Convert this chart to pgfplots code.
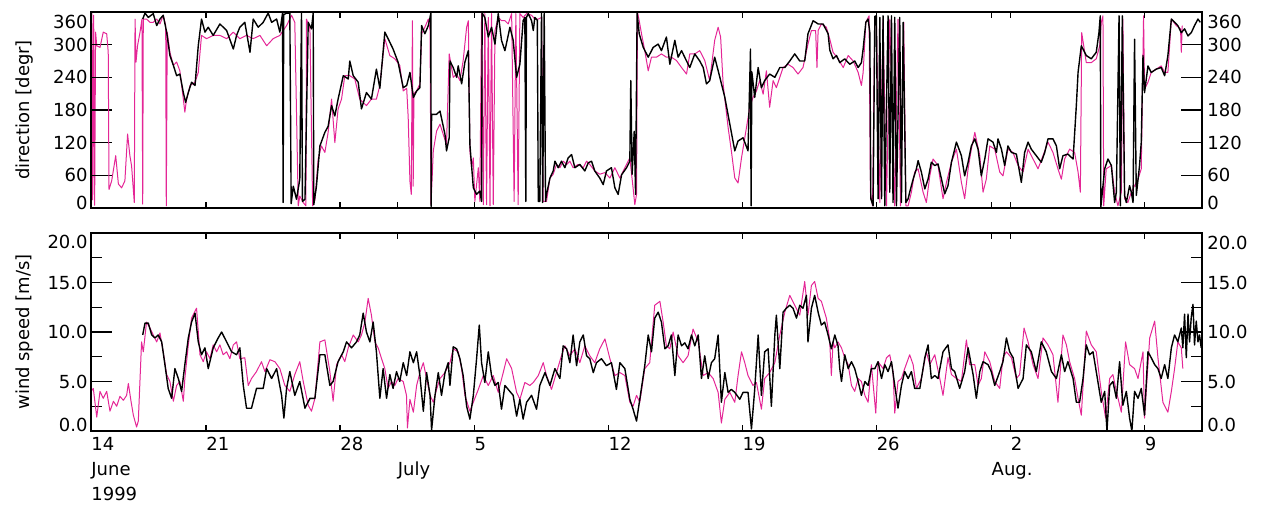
\documentclass[border=0pt]{standalone}
\usepackage{pgfplots}
\pgfplotsset{compat=1.18}
\usepackage{pgfplotstable}
\usepackage{fontspec}
\setmainfont{DejaVu Sans}
\definecolor{mag}{RGB}{228,38,150}

% ---------------- top panel: wind direction ----------------
\pgfplotstableread[row sep=\\]{x y\\
17.70 347\\17.82 358\\17.99 350\\18.25 357\\18.43 335\\18.60 347\\18.77 354\\18.95 323\\19.12 280\\19.30 262\\19.47 243\\19.64 246\\19.82 212\\19.94 194\\20.08 212\\20.25 231\\20.43 225\\20.60 298\\20.77 347\\20.95 323\\21.12 332\\21.38 317\\21.73 338\\22.08 326\\22.43 292\\22.60 317\\22.77 332\\23.03 341\\23.30 286\\23.47 347\\23.73 332\\23.99 341\\24.25 358\\24.43 341\\24.69 347\\24.86 323\\25.00 358\\25.03 10\\25.06 355\\25.21 358\\25.38 358\\25.45 8\\25.56 40\\25.73 16\\25.90 53\\25.99 358\\26.04 12\\26.17 16\\26.34 341\\26.51 329\\26.60 358\\26.63 6\\26.77 40\\26.95 114\\27.21 139\\27.38 150\\27.56 188\\27.73 169\\27.90 200\\28.17 243\\28.43 237\\28.51 270\\28.69 243\\28.95 231\\29.12 182\\29.38 212\\29.64 200\\29.90 255\\30.08 220\\30.34 323\\30.51 311\\30.77 292\\31.03 268\\31.30 221\\31.48 225\\31.65 249\\31.83 203\\32.00 215\\32.17 221\\32.26 335\\32.43 320\\32.61 335\\32.70 350\\32.74 358\\32.76 3\\32.78 172\\33.04 172\\33.22 178\\33.48 135\\33.56 105\\33.70 129\\33.74 270\\33.91 258\\34.09 240\\34.17 261\\34.35 228\\34.52 268\\34.70 289\\34.78 117\\34.96 37\\35.13 25\\35.30 31\\35.39 12\\35.42 358\\35.56 350\\35.74 314\\35.91 332\\36.09 301\\36.26 357\\36.43 308\\36.61 289\\36.87 332\\37.04 308\\37.22 240\\37.39 264\\37.56 344\\37.65 350\\37.70 12\\37.73 350\\37.83 357\\38.00 344\\38.09 326\\38.17 350\\38.30 345\\38.35 12\\38.43 12\\38.52 358\\38.58 10\\38.66 358\\38.73 12\\38.78 25\\38.96 55\\39.13 68\\39.22 86\\39.39 74\\39.56 86\\39.74 74\\39.91 92\\40.09 98\\40.26 74\\40.52 80\\40.78 68\\40.96 83\\41.13 86\\41.30 68\\41.56 55\\41.74 43\\41.91 68\\42.17 74\\42.35 37\\42.52 25\\42.70 61\\42.96 74\\43.13 86\\43.18 234\\43.25 62\\43.36 141\\43.43 25\\43.51 358\\43.62 320\\43.83 295\\44.09 277\\44.35 295\\44.61 301\\44.78 289\\45.04 314\\45.22 264\\45.48 308\\45.65 277\\45.83 289\\46.09 270\\46.26 258\\46.52 283\\46.78 270\\46.96 258\\47.13 228\\47.30 234\\47.56 277\\47.83 240\\48.09 203\\48.35 154\\48.61 105\\48.78 123\\49.04 129\\49.30 105\\49.43 292\\49.46 4\\49.50 250\\49.65 203\\49.83 258\\50.00 221\\50.17 234\\50.43 246\\50.70 240\\50.96 258\\51.22 258\\51.48 270\\51.74 283\\52.00 270\\52.26 270\\52.43 320\\52.70 344\\52.96 338\\53.22 338\\53.48 320\\53.57 290\\53.74 274\\53.92 280\\54.09 267\\54.35 274\\54.61 264\\54.87 270\\55.05 258\\55.22 267\\55.31 292\\55.45 341\\55.57 347\\55.66 322\\55.71 17\\55.83 4\\55.92 352\\56.00 353\\56.09 17\\56.18 350\\56.27 17\\56.35 353\\56.44 4\\56.61 353\\56.70 29\\56.79 353\\56.87 10\\56.96 350\\57.05 4\\57.22 350\\57.31 10\\57.40 341\\57.54 10\\57.66 17\\57.74 29\\57.92 53\\58.09 72\\58.18 87\\58.35 66\\58.53 35\\58.70 53\\58.87 84\\59.05 78\\59.22 81\\59.40 53\\59.57 26\\59.74 41\\59.92 84\\60.18 121\\60.44 96\\60.61 59\\60.79 84\\60.96 114\\61.14 127\\61.31 108\\61.48 59\\61.66 90\\61.83 127\\62.09 121\\62.27 102\\62.35 127\\62.53 108\\62.70 78\\62.87 114\\63.05 102\\63.31 99\\63.57 47\\63.74 102\\63.92 121\\64.09 108\\64.35 96\\64.61 84\\64.79 102\\64.96 127\\65.22 127\\65.40 114\\65.57 72\\65.74 96\\66.00 99\\66.27 90\\66.44 188\\66.53 249\\66.70 298\\66.96 280\\67.22 274\\67.48 286\\67.62 322\\67.69 353\\67.72 2\\67.92 72\\68.09 90\\68.27 78\\68.44 10\\68.53 29\\68.67 353\\68.74 4\\68.84 353\\68.96 23\\69.05 10\\69.22 41\\69.31 29\\69.40 10\\69.48 310\\69.57 23\\69.74 78\\69.83 121\\69.92 280\\70.00 212\\70.18 261\\70.35 249\\70.61 255\\70.87 258\\71.05 243\\71.22 280\\71.40 347\\71.57 341\\71.74 335\\71.92 322\\72.09 329\\72.27 316\\72.44 322\\72.61 335\\72.79 347\\72.91 341\\
}\topblack

\pgfplotstableread[row sep=\\]{x y\\
15.00 4\\15.05 358\\15.09 15\\15.14 354\\15.19 5\\15.24 323\\15.30 298\\15.47 295\\15.64 323\\15.82 320\\15.90 286\\15.94 34\\16.08 50\\16.29 96\\16.43 44\\16.60 37\\16.77 50\\16.91 136\\17.03 96\\17.12 77\\17.26 10\\17.30 347\\17.35 268\\17.43 298\\17.56 323\\17.66 347\\17.70 7\\17.73 347\\17.90 347\\18.08 341\\18.25 341\\18.43 347\\18.60 338\\18.77 354\\18.90 335\\18.93 4\\18.98 323\\19.12 286\\19.30 262\\19.47 268\\19.64 252\\19.82 200\\19.90 176\\19.99 200\\20.17 225\\20.43 231\\20.60 249\\20.77 317\\21.03 311\\21.38 317\\21.73 317\\22.08 311\\22.43 323\\22.77 311\\23.12 317\\23.47 311\\23.82 317\\24.17 298\\24.51 311\\24.86 317\\25.21 335\\25.47 354\\25.64 341\\25.82 4\\25.90 22\\26.08 10\\26.22 4\\26.25 347\\26.43 329\\26.57 4\\26.69 15\\26.86 90\\27.03 114\\27.21 102\\27.38 139\\27.56 200\\27.73 120\\27.90 182\\28.08 200\\28.25 243\\28.51 243\\28.77 237\\29.03 200\\29.38 188\\29.64 200\\29.90 200\\30.08 225\\30.34 311\\30.60 280\\30.86 274\\31.12 262\\31.30 215\\31.48 220\\31.56 166\\31.65 49\\31.72 25\\31.78 344\\31.82 40\\31.86 210\\32.00 215\\32.17 228\\32.26 320\\32.43 332\\32.61 347\\32.70 326\\32.75 6\\32.87 105\\33.04 141\\33.22 154\\33.39 135\\33.56 117\\33.70 283\\33.91 240\\34.09 246\\34.26 234\\34.43 271\\34.61 332\\34.70 344\\34.78 105\\34.87 74\\34.96 92\\35.04 12\\35.22 74\\35.30 12\\35.39 357\\35.48 6\\35.56 357\\35.65 6\\35.74 350\\35.83 4\\35.91 357\\36.00 6\\36.09 326\\36.26 350\\36.43 344\\36.61 344\\36.78 338\\36.96 357\\37.09 12\\37.18 357\\37.30 6\\37.39 357\\37.56 350\\37.74 357\\38.00 354\\38.17 347\\38.35 347\\38.52 350\\38.61 12\\38.78 12\\38.96 55\\39.13 62\\39.30 80\\39.48 74\\39.65 86\\39.83 80\\40.00 86\\40.17 74\\40.43 80\\40.70 74\\40.87 86\\41.04 80\\41.30 68\\41.56 62\\41.83 65\\42.09 55\\42.35 74\\42.61 55\\42.87 74\\43.13 92\\43.30 37\\43.39 6\\43.48 25\\43.53 360\\43.62 344\\43.74 320\\43.91 289\\44.09 252\\44.26 277\\44.52 277\\44.78 283\\45.04 277\\45.30 277\\45.56 271\\45.83 258\\46.09 246\\46.26 283\\46.52 283\\46.78 289\\47.04 271\\47.30 234\\47.56 308\\47.74 332\\47.87 314\\48.00 228\\48.26 148\\48.43 105\\48.61 55\\48.78 46\\48.96 92\\49.22 148\\49.39 185\\49.56 203\\49.74 215\\49.91 234\\50.09 209\\50.26 252\\50.43 185\\50.61 234\\50.78 221\\50.96 240\\51.13 258\\51.39 264\\51.65 258\\51.91 246\\52.17 258\\52.43 301\\52.61 326\\52.83 326\\52.90 258\\52.96 326\\53.13 338\\53.39 332\\53.57 310\\53.74 286\\54.00 274\\54.27 258\\54.53 280\\54.79 270\\55.05 249\\55.22 225\\55.31 249\\55.45 341\\55.62 353\\55.69 29\\55.80 4\\55.92 347\\56.00 347\\56.18 10\\56.35 347\\56.53 4\\56.70 347\\56.96 4\\57.13 347\\57.26 4\\57.43 341\\57.54 4\\57.66 4\\57.83 29\\58.00 66\\58.18 72\\58.44 29\\58.61 10\\58.79 59\\58.96 90\\59.22 78\\59.48 17\\59.66 47\\59.92 84\\60.18 108\\60.44 47\\60.61 17\\60.79 72\\60.96 108\\61.14 139\\61.40 96\\61.57 29\\61.74 53\\61.92 114\\62.18 108\\62.44 66\\62.61 59\\62.87 108\\63.13 102\\63.40 78\\63.66 66\\63.92 108\\64.18 90\\64.44 72\\64.70 96\\64.96 121\\65.22 102\\65.48 72\\65.66 53\\65.83 90\\66.09 108\\66.35 102\\66.53 66\\66.65 29\\66.72 322\\66.96 267\\67.22 267\\67.48 274\\67.66 298\\67.74 341\\67.83 353\\67.87 4\\68.00 72\\68.27 78\\68.44 29\\68.61 4\\68.79 29\\68.87 347\\68.96 17\\69.13 10\\69.31 29\\69.48 41\\69.66 53\\69.83 72\\69.95 353\\70.00 218\\70.18 231\\70.35 249\\70.61 255\\70.87 261\\71.05 249\\71.22 249\\71.40 347\\71.66 335\\71.88 329\\71.92 286\\71.97 335\\
}\topmag

% ---------------- bottom panel: wind speed ----------------
\pgfplotstableread[row sep=\\]{x y\\
17.70 9.7\\17.82 10.9\\17.99 10.9\\18.17 9.7\\18.34 9.4\\18.51 9.7\\18.69 9.0\\18.86 6.7\\19.03 4.3\\19.21 3.3\\19.38 6.3\\19.56 5.3\\19.73 4.0\\19.90 6.7\\20.08 9.4\\20.25 11.0\\20.43 11.9\\20.60 9.0\\20.77 7.7\\20.95 8.4\\21.12 6.3\\21.38 8.4\\21.64 9.4\\21.82 10.0\\22.08 9.0\\22.34 8.0\\22.60 7.7\\22.77 8.4\\22.95 4.6\\23.12 2.3\\23.38 2.3\\23.64 4.3\\23.99 4.3\\24.17 6.3\\24.43 5.3\\24.69 6.3\\24.95 3.6\\25.07 1.3\\25.21 4.3\\25.38 6.0\\25.64 3.6\\25.90 5.0\\26.17 2.3\\26.43 3.3\\26.69 3.3\\26.95 7.7\\27.21 7.7\\27.47 4.6\\27.64 5.0\\27.90 7.0\\28.17 8.0\\28.34 9.0\\28.60 8.4\\28.86 9.0\\29.03 9.7\\29.21 11.9\\29.38 10.0\\29.56 9.0\\29.73 11.0\\29.90 8.0\\30.08 3.3\\30.25 6.3\\30.43 3.3\\30.60 5.7\\30.77 4.3\\30.95 6.0\\31.12 5.0\\31.30 6.9\\31.48 5.6\\31.65 8.0\\31.83 6.9\\32.00 8.0\\32.17 5.6\\32.35 2.0\\32.52 5.9\\32.70 3.6\\32.78 0.1\\32.96 3.6\\33.13 5.9\\33.30 3.6\\33.48 5.9\\33.65 6.9\\33.74 4.6\\33.91 8.5\\34.09 8.3\\34.26 7.3\\34.43 5.6\\34.61 2.5\\34.78 1.2\\34.96 3.6\\35.13 7.3\\35.27 10.7\\35.39 6.9\\35.56 4.9\\35.74 8.0\\35.91 5.6\\36.09 4.6\\36.26 4.9\\36.43 2.2\\36.61 4.6\\36.78 4.2\\37.04 3.6\\37.22 1.5\\37.39 3.2\\37.56 1.2\\37.74 2.9\\38.00 3.6\\38.26 2.2\\38.43 4.6\\38.70 5.9\\38.96 4.6\\39.22 6.3\\39.48 5.3\\39.65 8.6\\39.83 8.3\\40.00 6.9\\40.17 9.7\\40.35 6.6\\40.52 9.0\\40.70 9.7\\40.87 7.6\\41.04 7.3\\41.22 5.9\\41.39 6.9\\41.65 7.3\\41.91 6.6\\42.17 6.9\\42.43 4.2\\42.61 6.9\\42.87 6.3\\43.13 3.2\\43.30 2.2\\43.48 1.0\\43.65 3.2\\43.91 6.6\\44.09 9.7\\44.26 8.0\\44.43 11.4\\44.61 12.0\\44.78 11.0\\44.96 8.3\\45.13 8.6\\45.30 9.7\\45.48 5.6\\45.65 9.7\\45.83 8.6\\46.00 8.9\\46.17 8.3\\46.35 9.7\\46.52 8.6\\46.70 9.7\\46.87 5.3\\47.04 7.6\\47.22 5.3\\47.39 6.9\\47.56 7.3\\47.74 9.7\\47.91 2.9\\48.09 5.9\\48.26 3.9\\48.43 4.2\\48.61 3.9\\48.87 3.2\\49.04 3.9\\49.30 3.9\\49.48 0.2\\49.65 4.2\\49.83 9.7\\50.00 3.6\\50.17 8.0\\50.35 8.3\\50.52 2.5\\50.70 9.7\\50.78 11.7\\50.96 6.3\\51.13 12.0\\51.30 12.4\\51.48 12.7\\51.65 12.4\\51.83 11.4\\52.00 12.7\\52.17 12.4\\52.35 13.7\\52.43 9.0\\52.61 12.4\\52.78 13.7\\52.96 12.0\\53.13 10.7\\53.30 11.0\\53.48 9.7\\53.65 8.3\\53.83 9.7\\54.00 8.6\\54.09 6.3\\54.18 5.0\\54.35 7.7\\54.53 6.3\\54.70 7.0\\54.87 6.3\\55.05 5.0\\55.22 3.6\\55.40 5.0\\55.57 4.6\\55.74 6.3\\55.92 6.3\\56.09 7.0\\56.27 5.3\\56.44 6.7\\56.61 6.0\\56.79 7.0\\56.96 4.6\\57.13 2.3\\57.31 4.6\\57.48 6.0\\57.66 5.3\\57.83 6.0\\58.00 4.3\\58.27 4.3\\58.53 7.4\\58.70 8.7\\58.87 5.3\\59.05 5.6\\59.22 5.3\\59.48 8.0\\59.74 8.7\\59.92 6.3\\60.09 6.0\\60.35 4.3\\60.61 6.0\\60.79 8.4\\61.05 5.7\\61.22 3.3\\61.40 6.0\\61.57 7.0\\61.83 6.7\\62.00 6.0\\62.18 4.6\\62.44 6.0\\62.61 7.0\\62.79 9.4\\62.96 8.0\\63.14 7.4\\63.40 4.3\\63.66 5.3\\63.83 8.7\\64.09 8.0\\64.35 6.0\\64.61 9.0\\64.87 8.0\\65.14 6.0\\65.40 5.3\\65.66 7.7\\65.83 6.0\\66.00 7.0\\66.27 5.3\\66.44 2.9\\66.61 2.9\\66.79 5.3\\66.96 8.7\\67.13 7.7\\67.31 8.0\\67.48 6.0\\67.74 2.9\\67.92 4.0\\68.04 0.0\\68.18 4.6\\68.35 5.0\\68.53 3.3\\68.70 7.0\\68.87 2.6\\69.05 4.0\\69.22 1.3\\69.34 0.0\\69.48 4.0\\69.66 3.3\\69.83 4.3\\70.00 1.6\\70.18 8.0\\70.35 7.4\\70.53 6.7\\70.70 6.3\\70.87 5.3\\71.05 6.7\\71.22 5.3\\71.40 8.4\\71.57 9.7\\71.74 9.0\\71.92 10.4\\72.00 8.4\\72.09 11.8\\72.18 7.4\\72.27 11.8\\72.35 9.0\\72.44 11.5\\72.53 12.8\\72.61 8.7\\72.70 11.1\\72.79 9.0\\72.87 9.7\\72.96 8.4\\
}\botblack

\pgfplotstableread[row sep=\\]{x y\\
15.00 4.0\\15.12 4.3\\15.30 1.4\\15.47 4.0\\15.64 3.3\\15.82 4.0\\15.99 2.0\\16.17 3.0\\16.34 2.5\\16.51 3.5\\16.69 3.1\\16.86 3.6\\16.95 4.8\\17.09 3.0\\17.21 1.6\\17.38 0.4\\17.47 1.0\\17.64 9.0\\17.73 8.0\\17.90 11.0\\18.08 10.4\\18.25 9.7\\18.43 9.0\\18.60 9.9\\18.77 8.0\\18.95 5.7\\19.12 5.0\\19.30 3.0\\19.47 4.6\\19.64 5.0\\19.82 3.0\\19.90 5.3\\20.08 8.7\\20.25 11.4\\20.51 12.4\\20.69 7.7\\20.86 7.0\\21.03 8.0\\21.21 7.3\\21.38 8.7\\21.56 8.0\\21.73 8.7\\21.90 7.7\\22.08 8.0\\22.25 7.3\\22.43 8.7\\22.60 9.0\\22.77 7.3\\23.03 7.4\\23.21 4.6\\23.38 5.3\\23.64 6.0\\23.90 7.0\\24.08 6.0\\24.34 7.2\\24.60 7.0\\24.86 6.3\\25.12 4.6\\25.38 4.0\\25.64 5.7\\25.90 7.0\\26.08 5.0\\26.34 2.6\\26.51 2.0\\26.69 3.3\\26.95 9.0\\27.21 9.2\\27.47 6.0\\27.64 3.0\\27.82 6.7\\28.08 7.7\\28.25 7.0\\28.43 8.4\\28.69 9.7\\28.95 9.0\\29.12 9.7\\29.30 11.0\\29.47 13.4\\29.64 11.7\\29.82 9.0\\29.99 8.4\\30.17 7.3\\30.34 6.3\\30.51 4.3\\30.69 5.0\\30.86 4.6\\31.03 5.3\\31.30 5.0\\31.47 3.6\\31.52 0.3\\31.65 3.2\\31.83 1.9\\32.00 4.6\\32.17 5.9\\32.35 6.9\\32.52 5.3\\32.70 3.6\\32.87 2.9\\33.04 4.2\\33.22 5.3\\33.48 5.9\\33.74 6.9\\33.91 8.3\\34.17 8.0\\34.35 6.3\\34.52 3.6\\34.78 2.0\\34.96 2.9\\35.22 4.2\\35.48 5.6\\35.74 4.6\\36.00 5.6\\36.26 3.9\\36.52 5.9\\36.70 7.3\\36.96 6.3\\37.22 3.9\\37.39 3.2\\37.65 4.9\\37.91 4.6\\38.09 4.9\\38.35 5.6\\38.61 6.9\\38.78 5.6\\39.04 4.2\\39.30 5.9\\39.56 7.6\\39.74 8.6\\40.00 7.6\\40.26 8.3\\40.52 6.9\\40.78 8.6\\41.04 7.6\\41.30 6.9\\41.56 8.3\\41.83 9.3\\42.09 7.3\\42.35 5.6\\42.61 5.9\\42.87 5.6\\43.13 2.9\\43.30 2.5\\43.48 3.6\\43.65 2.9\\43.91 6.3\\44.17 6.9\\44.43 12.7\\44.70 13.1\\44.87 11.0\\45.04 8.6\\45.22 8.3\\45.39 10.0\\45.65 7.6\\45.91 6.9\\46.17 7.6\\46.43 10.3\\46.70 9.0\\46.96 5.6\\47.22 5.9\\47.48 5.3\\47.74 3.9\\47.91 0.8\\48.09 3.2\\48.35 3.9\\48.61 2.9\\48.78 5.6\\48.96 8.0\\49.13 6.9\\49.30 5.6\\49.56 4.6\\49.74 4.9\\50.00 2.2\\50.17 5.3\\50.43 5.9\\50.70 6.9\\50.96 9.7\\51.22 12.0\\51.48 13.7\\51.74 12.7\\52.00 11.7\\52.26 15.1\\52.43 11.7\\52.61 14.7\\52.78 15.1\\52.96 13.4\\53.13 13.1\\53.39 11.4\\53.56 9.3\\53.65 5.6\\53.74 9.0\\53.83 8.4\\54.00 9.0\\54.18 8.4\\54.35 7.4\\54.53 6.7\\54.70 4.6\\54.87 4.0\\55.05 5.3\\55.22 5.0\\55.40 3.6\\55.57 2.9\\55.74 6.7\\55.97 1.8\\56.09 7.0\\56.35 6.3\\56.53 7.4\\56.70 7.7\\56.87 6.0\\56.96 1.8\\57.13 5.0\\57.31 5.3\\57.48 6.3\\57.74 7.7\\57.92 6.7\\58.09 4.3\\58.35 5.3\\58.61 8.0\\58.79 6.7\\59.05 7.7\\59.31 5.3\\59.48 3.6\\59.74 7.4\\59.92 5.7\\60.18 5.3\\60.44 5.0\\60.70 9.2\\60.87 6.7\\61.14 6.7\\61.31 4.6\\61.48 5.3\\61.66 8.0\\61.92 7.0\\62.18 5.0\\62.44 4.3\\62.61 7.4\\62.79 8.0\\63.05 7.4\\63.31 5.3\\63.48 5.7\\63.71 10.4\\63.92 9.0\\64.18 6.7\\64.44 5.3\\64.70 9.4\\64.96 8.7\\65.22 7.7\\65.48 2.9\\65.74 9.7\\65.92 8.7\\66.09 7.0\\66.35 5.3\\66.53 3.3\\66.70 1.6\\66.96 10.1\\67.22 8.7\\67.48 8.0\\67.74 4.0\\67.97 1.3\\68.18 5.3\\68.35 5.7\\68.53 4.0\\68.79 1.9\\69.01 9.0\\69.22 6.7\\69.48 6.3\\69.66 5.3\\69.92 8.0\\70.00 1.3\\70.27 9.4\\70.53 11.1\\70.70 7.4\\70.96 2.9\\71.22 1.9\\71.40 4.0\\71.57 6.3\\71.74 9.0\\71.92 8.4\\72.00 6.3\\
}\botmag

\pgfplotsset{
  panel/.style={
    scale only axis, width=555.5pt, xmin=15, xmax=73,
    axis line style={line width=0.7pt},
    every tick/.style={black, line width=0.6pt},
    font=\fontsize{9}{12.5}\selectfont,
    tick label style={font=\fontsize{9}{12.5}\selectfont},
  },
}

\begin{document}
\begin{tikzpicture}
\useasboundingbox (-45.5pt,6pt) rectangle (587pt,-247.5pt);

% ===== top panel, data + long y ticks =====
\begin{axis}[panel, at={(0pt,0pt)}, anchor=north west, height=98pt,
  ymin=0, ymax=360, ytick={0,60,120,180,240,300,360},
  yticklabels={\raisebox{2.5pt}[\height][\depth]{0},60,120,180,240,300,\raisebox{-5pt}[\height][\depth]{360}},
  ytick pos=both, yticklabel pos=left, major tick length=10.5pt,
  yticklabel style={inner sep=1.5pt},
  xtick=\empty,
  ylabel={direction [degr]},
  ylabel style={at={(axis description cs:0,0.5)}, anchor=center, yshift=33pt},
]
\addplot[mag, line width=0.5pt, line join=round] table {\topmag};
\addplot[black, line width=0.7pt, line join=round] table {\topblack};
\end{axis}
% ===== top panel, short x ticks + right labels =====
\begin{axis}[panel, at={(0pt,0pt)}, anchor=north west, height=98pt,
  ymin=0, ymax=360, ytick={0,60,120,180,240,300,360},
  yticklabels={\raisebox{2.5pt}[\height][\depth]{0},60,120,180,240,300,\raisebox{-5pt}[\height][\depth]{360}},
  yticklabel pos=right, major tick length=3pt,
  yticklabel style={inner sep=1pt, xshift=1.5pt},
  xtick={15,21,28,31,35,42,49,56,62,63,70}, xticklabels={},
]
\end{axis}

% ===== bottom panel, data + long y ticks =====
\begin{axis}[panel, at={(0pt,-110.5pt)}, anchor=north west, height=99pt,
  ymin=0, ymax=20, ytick={0,5,10,15,20}, minor ytick={2.5,7.5,12.5,17.5},
  yticklabels={\raisebox{3pt}[\height][\depth]{0.0},5.0,10.0,15.0,\raisebox{-4.5pt}[\height][\depth]{20.0}},
  ytick pos=both, yticklabel pos=left, major tick length=10.5pt, minor tick length=5.5pt,
  yticklabel style={inner sep=1.5pt},
  xtick=\empty,
  ylabel={wind speed [m/s]},
  ylabel style={at={(axis description cs:0,0.5)}, anchor=center, yshift=33pt},
]
\addplot[mag, line width=0.5pt, line join=round] table {\botmag};
\addplot[black, line width=0.7pt, line join=round] table {\botblack};
\end{axis}
% ===== bottom panel, short x ticks, date labels, right labels =====
\begin{axis}[panel, at={(0pt,-110.5pt)}, anchor=north west, height=99pt,
  ymin=0, ymax=20, ytick={0,5,10,15,20},
  yticklabels={\raisebox{3pt}[\height][\depth]{0.0},5.0,10.0,15.0,\raisebox{-5pt}[\height][\depth]{20.0}},
  yticklabel pos=right, major tick length=3pt,
  yticklabel style={inner sep=1pt, xshift=1.5pt},
  xtick={15,21,28,31,35,42,49,56,62,63,70},
  xticklabels={{14\\June\\1999},21,28,{\vphantom{1}\\July},5,12,19,26,{\vphantom{1}\\Aug.},2,9},
  xticklabel style={anchor=north west, align=left, inner sep=0pt, yshift=-3pt},
]
\end{axis}
\end{tikzpicture}
\end{document}
